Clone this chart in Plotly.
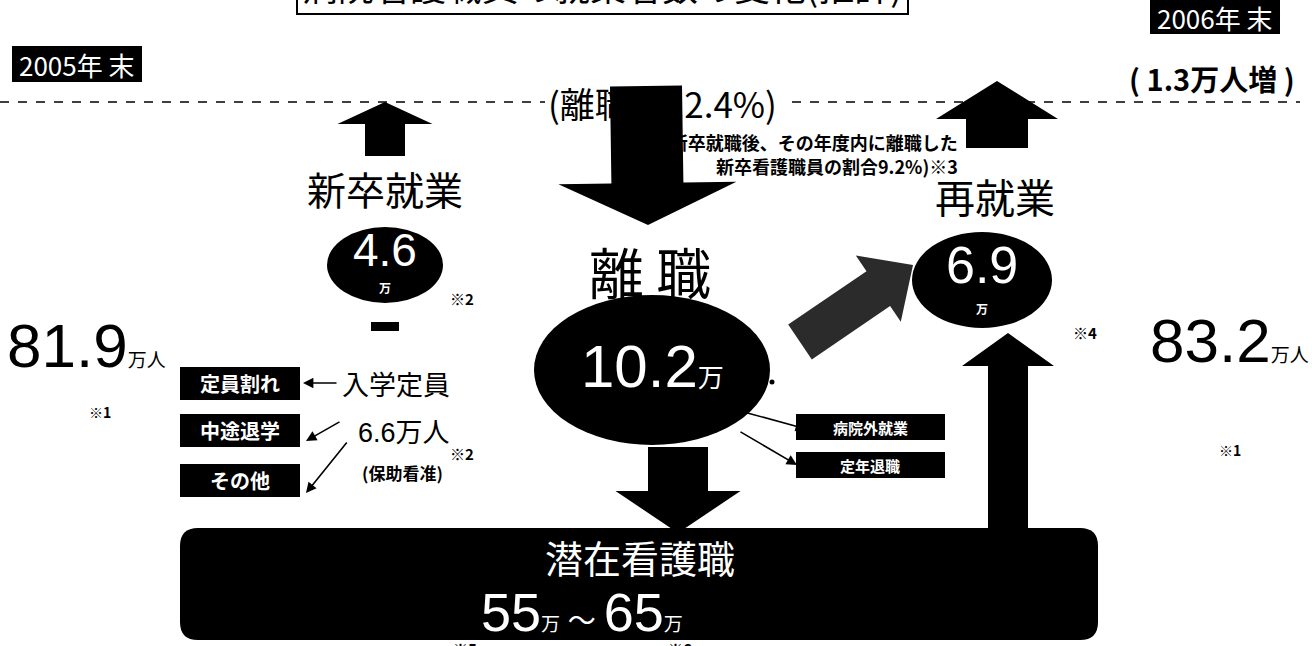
import math
import plotly.graph_objects as go

# 看護職員の就業者数（万人）
stock_labels = ["2005年 末", "2006年 末"]
stock_values = [81.9, 83.2]
flow_labels = ["新卒就業", "離 職", "再就業"]
flow_values = [4.6, 10.2, 6.9]
separation_rate = 12.4        # 離職率（%）
new_grad_separation = 9.2     # 新卒看護職員の離職率（%）
enrollment = 6.6              # 入学定員（万人）
latent_range = [55, 65]       # 潜在看護職（万人）
school_outflows = ["定員割れ", "中途退学", "その他"]
separation_routes = ["病院外就業", "定年退職"]
title_text = "病院看護職員の就業者数の変化(推計)"

W, H = 1312, 646
JP = "Noto Sans CJK JP"
NUM = "Liberation Sans, Noto Sans CJK JP"

fig = go.Figure(go.Scatter(x=[], y=[], showlegend=False))
shapes = []
annotations = []


def block_arrow(tail, tip, shaft_w, head_w, head_len, color="black"):
    (x0, y0), (x1, y1) = tail, tip
    length = math.hypot(x1 - x0, y1 - y0)
    ux, uy = (x1 - x0) / length, (y1 - y0) / length
    nx, ny = -uy, ux
    bx, by = x1 - ux * head_len, y1 - uy * head_len
    s, h = shaft_w / 2, head_w / 2
    pts = [
        (x0 + nx * s, y0 + ny * s), (bx + nx * s, by + ny * s),
        (bx + nx * h, by + ny * h), (x1, y1),
        (bx - nx * h, by - ny * h), (bx - nx * s, by - ny * s),
        (x0 - nx * s, y0 - ny * s),
    ]
    path = "M " + " L ".join(f"{x:.1f},{y:.1f}" for x, y in pts) + " Z"
    shapes.append(dict(type="path", path=path, fillcolor=color,
                       line=dict(width=0), layer="above"))


def rect(x0, y0, x1, y1, fill="black"):
    shapes.append(dict(type="rect", x0=x0, y0=y0, x1=x1, y1=y1,
                       fillcolor=fill, layer="above", line=dict(width=0)))


def rounded_rect(x0, y0, x1, y1, r, fill="black"):
    path = (f"M {x0 + r},{y0} L {x1 - r},{y0} Q {x1},{y0} {x1},{y0 + r} "
            f"L {x1},{y1 - r} Q {x1},{y1} {x1 - r},{y1} L {x0 + r},{y1} "
            f"Q {x0},{y1} {x0},{y1 - r} L {x0},{y0 + r} Q {x0},{y0} {x0 + r},{y0} Z")
    shapes.append(dict(type="path", path=path, fillcolor=fill,
                       line=dict(width=0), layer="above"))


def ellipse(cx, cy, rx, ry):
    shapes.append(dict(type="circle", x0=cx - rx, x1=cx + rx, y0=cy - ry, y1=cy + ry,
                       fillcolor="black", line=dict(width=0), layer="above"))


def text(x, y, s, size, color="black", family=JP, bold=False,
         xanchor="center", yanchor="middle"):
    # 紙面の外にはみ出す位置は paper 座標で置く
    if 0 <= y <= H:
        ref = dict(x=x, y=y, xref="x", yref="y")
    else:
        ref = dict(x=x / W, y=1 - y / H, xref="paper", yref="paper")
    annotations.append(dict(
        **ref, text=s, showarrow=False, xanchor=xanchor, yanchor=yanchor,
        font=dict(size=size, color=color, family=family,
                  weight="bold" if bold else "normal")))


def thin_arrow(x0, y0, x1, y1):
    annotations.append(dict(
        x=x1, y=y1, ax=x0, ay=y0, xref="x", yref="y", axref="x", ayref="y",
        text="", showarrow=True, arrowhead=2, arrowsize=1.3, arrowwidth=1.6,
        arrowcolor="black"))


def small(s, size):
    return f"<span style='font-size:{size}px'>{s}</span>"


# タイトル枠（上端は紙面外）
shapes.append(dict(type="rect", x0=297, x1=908, y0=-40, y1=14,
                   line=dict(color="black", width=2), fillcolor="white"))
text(602, -15, title_text, 36)

# 年末ラベル
rect(12, 46, 142, 82)
text(77, 64, stock_labels[0], 26, color="white")
rect(1150, 0, 1280, 34)
text(1215, 17, stock_labels[1], 26, color="white")
net_change = round(stock_values[1] - stock_values[0], 1)
text(1212, 78, f"( {net_change}万人増 )", 29, bold=True)

# 破線
for xa, xb in [(0, 545), (792, 1300)]:
    shapes.append(dict(type="line", x0=xa, x1=xb, y0=102, y1=102,
                       line=dict(color="black", width=1.4, dash="dash")))

# 離職率
text(546, 102, f"(離職率{separation_rate}%)", 35, xanchor="left")
text(960, 142, "(新卒就職後、その年度内に離職した", 18, bold=True, xanchor="right")
text(960, 166, f"新卒看護職員の割合{new_grad_separation}%)※3", 18, bold=True,
     xanchor="right")
block_arrow((646, 86), (648, 225), 72, 178, 42)

# 新卒就業
cx_new = 385
block_arrow((cx_new, 156), (cx_new, 102), 40, 95, 22)
text(cx_new, 188, flow_labels[0], 39)
ellipse(cx_new, 265, 58, 38)
text(cx_new, 250, f"{flow_values[0]}", 46, color="white", family=NUM)
text(cx_new, 287, "万", 12, color="white", bold=True)
text(462, 298, "※2", 15, bold=True)
rect(cx_new - 14, 322, cx_new + 14, 331)

# 学校からの流出
for i, lab in enumerate(school_outflows):
    y0 = [367, 414, 464][i]
    rect(180, y0, 300, y0 + 33)
    text(240, y0 + 16.5, lab, 20, color="white", bold=True)
text(396, 383, "入学定員", 27)
text(404, 433, f"{enrollment}万人", 27, family=NUM)
text(402, 472, "(保助看准)", 17, bold=True)
text(462, 453, "※2", 15, bold=True)
thin_arrow(338, 383, 303, 383)
thin_arrow(341, 421, 306, 441)
thin_arrow(348, 441, 306, 493)

# 2005年末 就業者数
text(5, 345, f"{stock_values[0]}" + small("万人", 19), 62, family=NUM, xanchor="left")
text(100, 412, "※1", 14, bold=True)

# 離職
text(650, 270, flow_labels[1], 55)
ellipse(652, 370, 118, 75)
text(652, 366, f"{flow_values[1]}" + small("万", 26), 60, color="white", family=NUM)
ellipse(772, 382, 2.5, 2.5)
for i, lab in enumerate(separation_routes):
    y0 = [414, 452][i]
    rect(796, y0, 945, y0 + 26)
    text(870, y0 + 13, lab, 15, color="white", bold=True)
thin_arrow(744, 412, 806, 429)
thin_arrow(739, 431, 797, 465)
block_arrow((678, 447), (678, 533), 60, 125, 42)

# 再就業
block_arrow((997, 148), (997, 81), 62, 122, 38)
text(995, 196, flow_labels[2], 40)
ellipse(982, 280, 70, 48)
text(982, 265, f"{flow_values[2]}", 52, color="white", family=NUM)
text(982, 308, "万", 12, color="white", bold=True)
text(1085, 332, "※4", 15, bold=True)
block_arrow((800, 342), (913, 265), 42, 80, 42, color="#2b2b2b")
block_arrow((1008, 528), (1008, 333), 40, 92, 33)

# 2006年末 就業者数
text(1148, 340, f"{stock_values[1]}" + small("万人", 19), 62, family=NUM, xanchor="left")
text(1230, 450, "※1", 14, bold=True)

# 潜在看護職
rounded_rect(180, 528, 1098, 640, 18)
text(640, 556, "潜在看護職", 38, color="white")
text(582, 612, f"{latent_range[0]}" + small("万", 19) + small(" ～ ", 28)
     + f"{latent_range[1]}" + small("万", 19), 54, color="white", family=NUM)
text(465, 648, "※5", 15, bold=True)
text(680, 648, "※6", 15, bold=True)

fig.update_layout(
    width=W, height=H, margin=dict(l=0, r=0, t=0, b=0),
    paper_bgcolor="white", plot_bgcolor="white", showlegend=False,
    shapes=shapes, annotations=annotations,
    xaxis=dict(range=[0, W], visible=False, fixedrange=True),
    yaxis=dict(range=[H, 0], visible=False, fixedrange=True),
)
fig.write_html("out.html")
